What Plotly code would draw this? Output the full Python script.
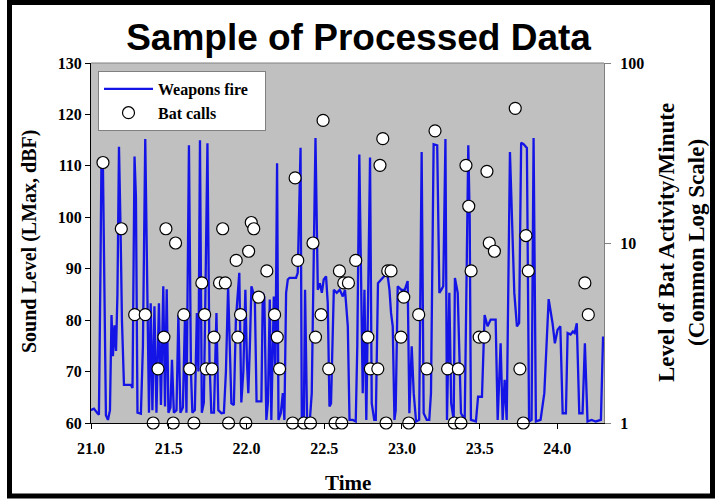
import plotly.graph_objects as go

# ---- Weapons fire (sound level, dBF) ----
fire_time = [
    21.000, 21.019, 21.039, 21.051, 21.061, 21.067, 21.077, 21.087, 21.096, 21.109,
    21.122, 21.132, 21.141, 21.151, 21.161, 21.170, 21.180, 21.190, 21.199, 21.212,
    21.257, 21.267, 21.280, 21.289, 21.299, 21.321, 21.334, 21.349, 21.360, 21.373,
    21.384, 21.395, 21.408, 21.421, 21.437, 21.450, 21.465, 21.476, 21.487, 21.498,
    21.511, 21.521, 21.533, 21.550, 21.562, 21.575, 21.591, 21.604, 21.614, 21.630,
    21.643, 21.652, 21.668, 21.681, 21.691, 21.701, 21.713, 21.726, 21.736, 21.749,
    21.762, 21.774, 21.791, 21.807, 21.819, 21.839, 21.855, 21.868, 21.882, 21.893,
    21.903, 21.919, 21.932, 21.954, 21.967, 21.980, 21.993, 22.003, 22.012, 22.022,
    22.032, 22.044, 22.054, 22.065, 22.096, 22.105, 22.115, 22.128, 22.138, 22.150,
    22.160, 22.176, 22.186, 22.197, 22.206, 22.221, 22.234, 22.244, 22.255, 22.266,
    22.277, 22.319, 22.330, 22.348, 22.356, 22.369, 22.377, 22.390, 22.408, 22.420,
    22.444, 22.459, 22.472, 22.485, 22.497, 22.512, 22.523, 22.534, 22.544, 22.562,
    22.581, 22.600, 22.620, 22.634, 22.652, 22.663, 22.684, 22.703, 22.713, 22.726,
    22.735, 22.748, 22.759, 22.771, 22.783, 22.795, 22.806, 22.822, 22.832, 22.846,
    22.867, 22.888, 22.906, 22.920, 22.930, 22.941, 22.952, 22.960, 22.973, 22.996,
    23.018, 23.037, 23.048, 23.063, 23.076, 23.091, 23.111, 23.127, 23.140, 23.160,
    23.176, 23.187, 23.204, 23.227, 23.241, 23.253, 23.266, 23.280, 23.290, 23.305,
    23.317, 23.333, 23.341, 23.359, 23.380, 23.404, 23.413, 23.427, 23.436, 23.444,
    23.476, 23.490, 23.515, 23.532, 23.551, 23.571, 23.603, 23.616, 23.635, 23.648,
    23.661, 23.674, 23.695, 23.709, 23.723, 23.740, 23.754, 23.767, 23.783, 23.804,
    23.818, 23.834, 23.847, 23.862, 23.892, 23.916, 23.944, 23.969, 23.984, 24.001,
    24.019, 24.034, 24.055, 24.066, 24.085, 24.100, 24.111, 24.125, 24.141, 24.162,
    24.177, 24.194, 24.220, 24.247, 24.280, 24.294,
]
fire_level = [
    62.5, 62.8, 62.0, 61.6, 90.0, 110.5, 109.5, 85.0, 61.5, 60.6,
    62.5, 81.0, 73.0, 79.0, 74.0, 85.0, 113.7, 98.0, 80.0, 67.4,
    67.4, 66.8, 111.8, 104.0, 62.0, 61.8, 75.0, 115.2, 85.0, 62.0,
    83.3, 62.5, 82.7, 62.0, 83.3, 63.5, 86.6, 63.2, 86.0, 62.0,
    63.0, 72.3, 62.0, 62.5, 81.0, 62.0, 63.0, 80.0, 62.0, 114.0,
    70.0, 62.0, 62.5, 81.4, 70.0, 115.0, 62.0, 64.0, 85.0, 114.4,
    72.3, 62.0, 62.0, 81.4, 62.5, 61.9, 62.0, 70.0, 86.6, 72.0,
    63.8, 63.5, 80.0, 89.2, 64.0, 70.0, 85.9, 72.0, 65.8, 75.0,
    86.6, 85.3, 84.0, 64.2, 64.2, 85.3, 84.5, 60.6, 64.0, 84.0,
    60.6, 84.6, 70.0, 110.5, 60.6, 61.9, 65.8, 60.6, 85.3, 87.9,
    88.2, 88.2, 89.2, 113.5, 60.6, 60.6, 85.9, 60.6, 60.6, 65.8,
    115.4, 85.9, 87.2, 85.3, 87.9, 88.5, 83.3, 63.2, 63.8, 85.9,
    85.3, 85.9, 84.6, 85.9, 78.8, 60.6, 60.6, 60.3, 75.0, 112.2,
    90.0, 65.8, 85.9, 60.6, 85.3, 111.6, 63.8, 60.6, 60.6, 87.2,
    87.9, 88.5, 89.2, 85.9, 81.4, 78.8, 60.6, 62.5, 86.6, 85.9,
    85.9, 87.6, 61.9, 74.9, 65.8, 60.3, 60.6, 112.7, 61.9, 60.6,
    60.6, 65.8, 114.2, 114.0, 85.3, 85.9, 86.6, 115.2, 60.6, 85.3,
    63.8, 60.6, 88.2, 85.3, 61.9, 60.6, 80.0, 114.0, 100.0, 60.6,
    60.3, 65.1, 65.1, 81.0, 78.8, 80.1, 80.1, 60.6, 75.5, 60.6,
    68.4, 60.6, 112.7, 98.3, 85.3, 78.8, 79.4, 114.5, 114.2, 113.5,
    60.3, 60.6, 115.4, 60.3, 60.6, 65.8, 84.1, 79.4, 75.5, 78.1,
    78.8, 61.9, 61.9, 77.5, 77.2, 77.8, 77.5, 79.4, 61.9, 61.9,
    75.5, 60.3, 60.6, 60.3, 60.6, 76.8,
]

# ---- Bat calls (activity per minute, log scale) ----
bat_time = [
    21.077, 21.195, 21.281, 21.349, 21.400, 21.431, 21.469, 21.482, 21.529, 21.544,
    21.597, 21.635, 21.662, 21.713, 21.731, 21.741, 21.778, 21.791, 21.827, 21.847,
    21.864, 21.885, 21.934, 21.945, 21.962, 21.996, 22.014, 22.031, 22.047, 22.078,
    22.131, 22.181, 22.198, 22.213, 22.297, 22.313, 22.330, 22.369, 22.412, 22.428,
    22.444, 22.480, 22.493, 22.529, 22.570, 22.598, 22.613, 22.626, 22.656, 22.703,
    22.781, 22.797, 22.845, 22.859, 22.877, 22.898, 22.909, 22.930, 22.994, 23.012,
    23.044, 23.108, 23.160, 23.213, 23.294, 23.337, 23.363, 23.380, 23.412, 23.430,
    23.445, 23.497, 23.530, 23.547, 23.562, 23.595, 23.729, 23.759, 23.781, 23.798,
    23.813, 24.177, 24.199,
]
bat_count = [
    28, 12, 4, 4, 1, 2, 3, 12, 1, 10,
    4, 2, 1, 6, 4, 2, 2, 3, 6, 12,
    6, 1, 8, 3, 4, 1, 9, 13, 12, 5,
    7, 4, 3, 2, 1, 23, 8, 1, 1, 10,
    3, 4, 48, 2, 1, 7, 1, 6, 6, 8,
    3, 2, 2, 27, 38, 1, 7, 7, 3, 5,
    1, 4, 2, 42, 2, 1, 2, 1, 27, 16,
    7, 3, 3, 25, 10, 9, 56, 2, 1, 11,
    7, 6, 4,
]

x_ticks = [21.0, 21.5, 22.0, 22.5, 23.0, 23.5, 24.0]
x_ticklabels = ["21.0", "21.5", "22.0", "22.5", "23.0", "23.5", "24.0"]
y_ticks = [60, 70, 80, 90, 100, 110, 120, 130]
y2_ticks = [1, 10, 100]

SERIF = "Liberation Serif"


def bold_serif(s):
    return dict(family=SERIF, size=s, color="black", weight="bold")


fig = go.Figure()
fig.add_trace(go.Scatter(
    x=fire_time, y=fire_level, mode="lines", name="Weapons fire&nbsp;&nbsp;&nbsp;",
    line=dict(color="#1414E6", width=2.3), yaxis="y",
))
fig.add_trace(go.Scatter(
    x=bat_time, y=bat_count, mode="markers", name="Bat calls",
    marker=dict(symbol="circle", size=12, color="white",
                line=dict(color="black", width=1.2)),
    yaxis="y2", cliponaxis=False,
))

L, R, T, B = 91, 113, 63, 76
W, H = 717, 499
pw, ph = W - L - R, H - T - B


def px(xp):
    return (xp - L) / pw


def py(yp):
    return (H - B - yp) / ph


fig.update_layout(
    width=W, height=H,
    margin=dict(l=L, r=R, t=T, b=B, pad=0),
    paper_bgcolor="white", plot_bgcolor="#C0C0C0",
    title=dict(text="Sample of Processed Data", x=0.5, xref="container",
               y=1 - 37 / H, yref="container", xanchor="center", yanchor="middle",
               font=dict(family="Liberation Sans", size=37, color="black", weight="bold")),
    xaxis=dict(range=[21.0, 24.3], tickmode="array", tickvals=x_ticks, ticktext=x_ticklabels,
               ticks="outside", ticklen=5, tickcolor="black", showline=True,
               linecolor="black", linewidth=1, showgrid=False, zeroline=False,
               tickfont=bold_serif(16), ticklabelstandoff=6),
    yaxis=dict(range=[60, 130], tickmode="array", tickvals=y_ticks,
               ticks="outside", ticklen=5, tickcolor="black", showline=True,
               linecolor="black", linewidth=1, showgrid=False, zeroline=False,
               tickfont=bold_serif(16)),
    yaxis2=dict(type="log", range=[0, 2], overlaying="y", side="right",
                tickmode="array", tickvals=y2_ticks, ticktext=["1", "10", "100"],
                ticks="outside", ticklen=6, tickcolor="#808080", showline=True,
                linecolor="#808080", linewidth=1, showgrid=False, zeroline=False,
                tickfont=bold_serif(16), ticklabelstandoff=6),
    legend=dict(x=px(98), y=py(71), xanchor="left", yanchor="top",
                bgcolor="white", bordercolor="#808080", borderwidth=1,
                font=bold_serif(16), tracegroupgap=0, itemwidth=49),
    showlegend=True,
    shapes=[
        dict(type="line", xref="paper", yref="paper", x0=0, x1=1, y0=1, y1=1,
             line=dict(color="#808080", width=1)),
        dict(type="rect", xref="paper", yref="paper",
             x0=px(9.5), x1=px(712.5), y0=py(496), y1=py(2.5),
             line=dict(color="black", width=5), fillcolor="rgba(0,0,0,0)"),
    ],
    annotations=[
        dict(text="Sound Level (LMax, dBF)", xref="paper", yref="paper",
             x=px(29), y=py(242), textangle=-90, showarrow=False,
             xanchor="center", yanchor="middle", font=bold_serif(20)),
        dict(text="Level of Bat Activity/Minute<br>(Common Log Scale)",
             xref="paper", yref="paper", x=px(681), y=py(243), textangle=-90,
             showarrow=False, xanchor="center", yanchor="middle",
             font=bold_serif(23)),
        dict(text="Time", xref="paper", yref="paper", x=0.5, y=py(483),
             showarrow=False, xanchor="center", yanchor="middle",
             font=bold_serif(21)),
    ],
)

fig.write_html(
    "out.html",
    config={"displayModeBar": False},
    post_script="document.body.style.margin='0px';document.body.style.overflow='hidden';",
)
